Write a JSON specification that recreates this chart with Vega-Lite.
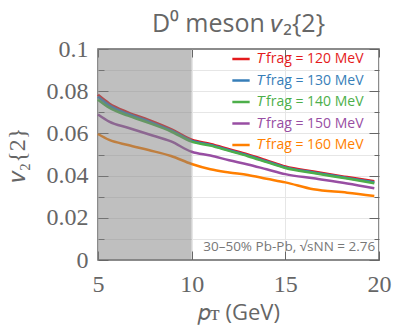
{
  "$schema": "https://vega.github.io/schema/vega-lite/v6.json",
  "width": 281,
  "height": 211,
  "autosize": "none",
  "padding": {"left": 98, "top": 49, "right": 16, "bottom": 67},
  "title": {"text": "D⁰ meson 𝑣₂{2}", "font": "Open Sans", "fontSize": 25, "fontWeight": "normal", "color": "#666666", "offset": 0, "anchor": "middle"},
  "config": {
    "view": {"stroke": "#666666", "strokeWidth": 1.5},
    "axis": {"domain": false, "tickColor": "#666666", "tickWidth": 1, "labelColor": "#666666", "labelFont": "Liberation Serif", "labelFontSize": 24, "labelFlush": false, "labelExpr": "format(datum.value, '~g')", "titleColor": "#666666", "titleFontWeight": "normal", "gridColor": "#e6e6e6", "gridWidth": 1}
  },
  "datasets": {
    "lines": [
      {"pT": 5, "T": "120", "v2": 0.0783}, {"pT": 5.6, "T": "120", "v2": 0.0742}, {"pT": 6.6, "T": "120", "v2": 0.0700}, {"pT": 7.7, "T": "120", "v2": 0.0664}, {"pT": 8.9, "T": "120", "v2": 0.0620}, {"pT": 10, "T": "120", "v2": 0.0570}, {"pT": 11, "T": "120", "v2": 0.0550}, {"pT": 12, "T": "120", "v2": 0.0525}, {"pT": 13, "T": "120", "v2": 0.0500}, {"pT": 14, "T": "120", "v2": 0.0472}, {"pT": 15, "T": "120", "v2": 0.0443}, {"pT": 16.5, "T": "120", "v2": 0.0419}, {"pT": 18.3, "T": "120", "v2": 0.0393}, {"pT": 19.75, "T": "120", "v2": 0.0373},
      {"pT": 5, "T": "130", "v2": 0.0774}, {"pT": 5.6, "T": "130", "v2": 0.0733}, {"pT": 6.6, "T": "130", "v2": 0.0692}, {"pT": 7.7, "T": "130", "v2": 0.0657}, {"pT": 8.9, "T": "130", "v2": 0.0614}, {"pT": 10, "T": "130", "v2": 0.0565}, {"pT": 11, "T": "130", "v2": 0.0545}, {"pT": 12, "T": "130", "v2": 0.0520}, {"pT": 13, "T": "130", "v2": 0.0495}, {"pT": 14, "T": "130", "v2": 0.0467}, {"pT": 15, "T": "130", "v2": 0.0439}, {"pT": 16.5, "T": "130", "v2": 0.0415}, {"pT": 18.3, "T": "130", "v2": 0.0389}, {"pT": 19.75, "T": "130", "v2": 0.0368},
      {"pT": 5, "T": "140", "v2": 0.0760}, {"pT": 5.6, "T": "140", "v2": 0.0722}, {"pT": 6.6, "T": "140", "v2": 0.0684}, {"pT": 7.7, "T": "140", "v2": 0.0650}, {"pT": 8.9, "T": "140", "v2": 0.0609}, {"pT": 10, "T": "140", "v2": 0.0561}, {"pT": 11, "T": "140", "v2": 0.0542}, {"pT": 12, "T": "140", "v2": 0.0517}, {"pT": 13, "T": "140", "v2": 0.0492}, {"pT": 14, "T": "140", "v2": 0.0464}, {"pT": 15, "T": "140", "v2": 0.0436}, {"pT": 16.5, "T": "140", "v2": 0.0412}, {"pT": 18.3, "T": "140", "v2": 0.0386}, {"pT": 19.75, "T": "140", "v2": 0.0364},
      {"pT": 5, "T": "150", "v2": 0.0690}, {"pT": 5.6, "T": "150", "v2": 0.0656}, {"pT": 6.6, "T": "150", "v2": 0.0627}, {"pT": 7.7, "T": "150", "v2": 0.0596}, {"pT": 8.9, "T": "150", "v2": 0.0562}, {"pT": 10, "T": "150", "v2": 0.0513}, {"pT": 11, "T": "150", "v2": 0.0495}, {"pT": 12, "T": "150", "v2": 0.0473}, {"pT": 13, "T": "150", "v2": 0.0453}, {"pT": 14, "T": "150", "v2": 0.0430}, {"pT": 15, "T": "150", "v2": 0.0407}, {"pT": 16.5, "T": "150", "v2": 0.0387}, {"pT": 18.3, "T": "150", "v2": 0.0363}, {"pT": 19.75, "T": "150", "v2": 0.0340},
      {"pT": 5, "T": "160", "v2": 0.0597}, {"pT": 5.6, "T": "160", "v2": 0.0569}, {"pT": 6.6, "T": "160", "v2": 0.0545}, {"pT": 7.7, "T": "160", "v2": 0.0521}, {"pT": 8.9, "T": "160", "v2": 0.0493}, {"pT": 10, "T": "160", "v2": 0.0455}, {"pT": 11, "T": "160", "v2": 0.0430}, {"pT": 12, "T": "160", "v2": 0.0415}, {"pT": 13, "T": "160", "v2": 0.0403}, {"pT": 14, "T": "160", "v2": 0.0385}, {"pT": 15, "T": "160", "v2": 0.0368}, {"pT": 16.5, "T": "160", "v2": 0.0335}, {"pT": 18.3, "T": "160", "v2": 0.0319}, {"pT": 19.75, "T": "160", "v2": 0.0303}
    ],
    "band": [{"start": 5, "end": 10, "lo": 0, "hi": 0.1}],
    "note": [{"text": "30–50% Pb-Pb, √sNN = 2.76"}]
  },
  "layer": [
    {
      "data": {"name": "lines"},
      "mark": {"type": "point", "opacity": 0},
      "encoding": {
        "x": {"field": "pT", "type": "quantitative", "scale": {"domain": [5, 20], "nice": false, "zero": false}, "axis": null},
        "y": {"field": "v2", "type": "quantitative", "scale": {"domain": [0, 0.1], "nice": false}, "axis": {"orient": "left", "values": [0.01, 0.02, 0.03, 0.04, 0.05, 0.06, 0.07, 0.08, 0.09], "labels": false, "tickSize": -6, "grid": true, "title": null}}
      }
    },
    {
      "data": {"name": "lines"},
      "mark": {"type": "point", "opacity": 0},
      "encoding": {
        "x": {"field": "pT", "type": "quantitative", "axis": null},
        "y": {"field": "v2", "type": "quantitative", "axis": {"orient": "right", "values": [0.01, 0.03, 0.05, 0.07, 0.09], "labels": false, "tickSize": -5, "grid": false, "title": null}}
      }
    },
    {
      "data": {"name": "lines"},
      "mark": {"type": "line", "strokeWidth": 2.5, "interpolate": "monotone"},
      "encoding": {
        "x": {"field": "pT", "type": "quantitative", "axis": {"orient": "top", "values": [5, 10, 15, 20], "labels": false, "tickSize": -8, "grid": false, "title": null}},
        "y": {"field": "v2", "type": "quantitative", "axis": {"orient": "right", "values": [0, 0.02, 0.04, 0.06, 0.08, 0.1], "labels": false, "tickSize": -10, "grid": false, "title": null}},
        "color": {
          "field": "T", "type": "nominal",
          "scale": {"domain": ["120", "130", "140", "150", "160"], "range": ["#e41a1c", "#377eb8", "#4daf4a", "#984ea3", "#ff7f00"]},
          "legend": {
            "orient": "none", "legendX": 133, "legendY": 0, "title": null, "padding": 0,
            "symbolType": "stroke", "symbolStrokeWidth": 2.5, "symbolSize": 300, "symbolOffset": 0,
            "labelExpr": "'𝑇frag = ' + datum.label + ' MeV'",
            "labelFont": "Open Sans", "labelFontSize": 14, "labelOffset": 6, "rowPadding": 4.5,
            "encode": {"labels": {"update": {"fill": {"scale": "color", "field": "value"}}}}
          }
        }
      }
    },
    {
      "data": {"name": "band"},
      "mark": {"type": "rect", "fill": "#808080", "opacity": 0.5},
      "encoding": {
        "x": {"field": "start", "type": "quantitative", "axis": {"orient": "bottom", "values": [5, 10, 15, 20], "tickSize": -9, "labelPadding": 21, "grid": true, "title": "𝑝ᴛ (GeV)", "titleFont": "Open Sans", "titleFontSize": 22, "titlePadding": 6}},
        "x2": {"field": "end"},
        "y": {"field": "lo", "type": "quantitative", "axis": {"orient": "left", "values": [0, 0.02, 0.04, 0.06, 0.08, 0.1], "tickSize": -10, "labelPadding": 20, "grid": false, "title": "𝑣₂{2}", "titleFont": "Liberation Serif", "titleFontSize": 24, "titlePadding": 17}},
        "y2": {"field": "hi"}
      }
    },
    {
      "data": {"name": "note"},
      "mark": {"type": "text", "align": "right", "baseline": "middle", "font": "Open Sans", "fontSize": 13.5, "color": "#777777"},
      "encoding": {
        "x": {"datum": 19.8, "type": "quantitative", "axis": null},
        "y": {"datum": 0.0062, "type": "quantitative", "axis": null},
        "text": {"field": "text"}
      }
    }
  ],
  "resolve": {"axis": {"x": "independent", "y": "independent"}}
}
